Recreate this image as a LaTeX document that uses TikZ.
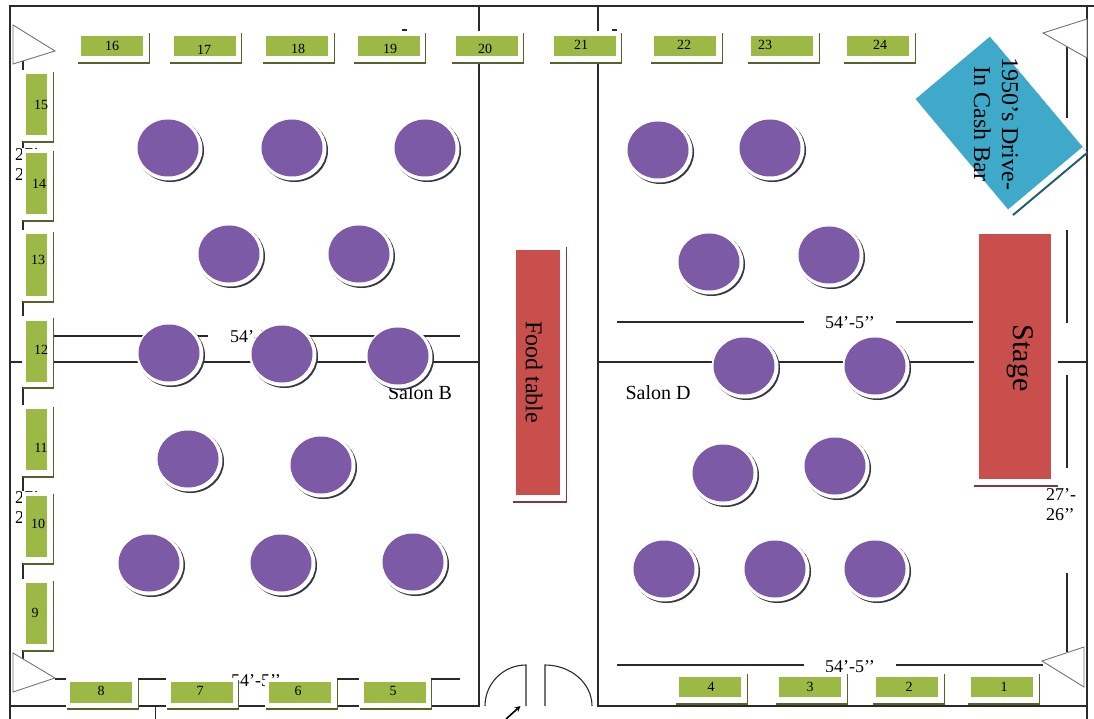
\documentclass[tikz,border=0pt]{standalone}
\usepackage{fontspec}
\setmainfont{Liberation Serif}
\usetikzlibrary{shadows,shapes.geometric}

\definecolor{tabgreen}{HTML}{9BB944}
\definecolor{tabdark}{HTML}{55642A}
\definecolor{plum}{HTML}{7C5AA6}
\definecolor{plumdark}{HTML}{3A3548}
\definecolor{brick}{HTML}{C94F4C}
\definecolor{brickdark}{HTML}{7E3A48}
\definecolor{barblue}{HTML}{3FA9C9}
\definecolor{bardark}{HTML}{1F5F6E}
\definecolor{wallgray}{HTML}{2A2A2A}

\begin{document}
\begin{tikzpicture}[x=1pt,y=-1pt,
  wall/.style={draw=wallgray,line width=1.1pt},
  tri/.style={draw=black!55,fill=white,line width=0.9pt},
  slab/.style={inner sep=0pt,
    general shadow={fill=#1,draw=#1,line width=10pt,shadow xshift=1.5pt,shadow yshift=-2.5pt},
    general shadow={fill=white,draw=white,line width=10pt,shadow xshift=.5pt,shadow yshift=-.5pt}},
  tabh/.style={slab=tabdark,fill=tabgreen,minimum width=62pt,minimum height=20.5pt},
  tabv/.style={slab=tabdark,fill=tabgreen,minimum width=21pt,minimum height=61pt},
  num/.style={font=\fontsize{14}{16}\selectfont,inner sep=0pt},
  seat/.style={ellipse,inner sep=0pt,fill=plum,minimum width=61pt,minimum height=57pt,
    general shadow={fill=plumdark,draw=plumdark,line width=6pt,shadow xshift=2.5pt,shadow yshift=-2.5pt},
    general shadow={fill=white,draw=white,line width=6pt,shadow xshift=1pt,shadow yshift=-1pt}},
  dimlbl/.style={font=\fontsize{18}{20}\selectfont,fill=white,inner sep=1pt},
  roomlbl/.style={font=\fontsize{20}{24}\selectfont}]

  \useasboundingbox (0,0) rectangle (1094,719);

  \draw[wall] (10,719) -- (10,6) -- (1094,6);
  \draw[wall] (1087,6) -- (1087,719);
  \draw[wall] (10,706) -- (479,706) -- (479,6);
  \draw[wall] (598,6) -- (598,706) -- (1087,706);
  \draw[wall] (10,362) -- (479,362);
  \draw[wall] (598,362) -- (1087,362);
  \draw[wall] (155.5,706) -- (155.5,719);

  \draw[wall] (53,336) -- (460,336);
  \draw[wall] (617,322) -- (973,322);
  \draw[wall] (617,665) -- (1043,665);
  \draw[wall] (55,679) -- (460,679);
  \draw[wall] (23,60) -- (23,660);
  \draw[wall] (402,30) -- (407,30);
  \draw[wall] (612,30) -- (617,30);

  \foreach \a/\b in {47/118,230/323,375/468,573/652}
    \draw[wall] (1067,\a) -- (1067,\b);

  \node[dimlbl,minimum width=94pt] (dimBC) at (255,337) {54'-5'{}'};
  \node[dimlbl,minimum width=92pt] (dimD) at (850,323) {54'-5'{}'};
  \node[dimlbl,minimum width=92pt] (dimDlow) at (850,667) {54'-5'{}'};
  \node[dimlbl] (dimBlow) at (256,681) {54'-5'{}'};
  \node[dimlbl,align=left] (dimL) at (30,165) {27'-\\26'{}'};
  \node[dimlbl,align=left] (dimLlow) at (30,508) {27'-\\26'{}'};
  \node[dimlbl,align=left] (dimR) at (1061,505) {27'-\\26'{}'};

  \node[roomlbl] (salonB) at (420,393) {Salon B};
  \node[roomlbl] (salonD) at (658,393) {Salon D};

  \draw[tri] (13,25) -- (55,51) -- (13,64) -- cycle;
  \draw[tri] (13,653) -- (55,678) -- (13,692) -- cycle;
  \draw[tri] (1087,19) -- (1043,33) -- (1087,58) -- cycle;
  \draw[tri] (1084,647) -- (1042,661) -- (1084,687) -- cycle;

  \foreach \n/\x/\tx/\ty in {16/112/112/46,17/204.5/204/50,18/297/298/49,19/388.5/390/49,
      20/486.5/485/49,21/584.5/581/45,22/685/684/45,23/782/765/45,24/878/880/45}{
    \node[tabh] (t\n) at (\x,46) {};
    \node[num] (n\n) at (\tx,\ty) {\n};
  }
  \foreach \n/\x/\tx in {8/101/101,7/201.5/200,6/300/298,5/394.5/393}{
    \node[tabh] (t\n) at (\x,692.5) {};
    \node[num] (n\n) at (\tx,691) {\n};
  }
  \foreach \n/\x/\tx in {4/710/711,3/810/810,2/907/909,1/1002/1004}{
    \node[tabh] (t\n) at (\x,687) {};
    \node[num] (n\n) at (\tx,687) {\n};
  }
  \foreach \n/\y/\tx/\ty in {15/105/41/105,14/184/39/184,13/265/38/260,12/351/41/350,
      11/439.5/41/448,10/526.5/38/524,9/613.5/35/613}{
    \node[tabv] (t\n) at (36.5,\y) {};
    \node[num] (n\n) at (\tx,\ty) {\n};
  }

  \foreach \x/\y in {168/148,292/148,425/148,229/254,359/254,169/353,282/354,398/356,
      188/459,321/465,149/563,281/563,413/562,658/150,770/148,709/262,829/255,
      744/366,875/366,723/473,835/466,664/569,775/569,875/569}
    \node[seat] (s\x) at (\x,\y) {};

  \node[slab=brickdark,fill=brick,minimum width=44pt,minimum height=245pt] (food) at (538,372.5) {};
  \node[rotate=-90,font=\fontsize{24}{28}\selectfont] (foodtxt) at (534,372) {Food table};

  \node[inner sep=0pt,fill=brick,minimum width=72pt,minimum height=245pt,
    general shadow={fill=brickdark,draw=brickdark,line width=12pt,shadow xshift=.5pt,shadow yshift=-1.5pt},
    general shadow={fill=white,draw=white,line width=12pt,shadow xshift=.5pt}] (stage) at (1015,356.5) {};
  \node[rotate=-90,font=\fontsize{30}{34}\selectfont] (stagetxt) at (1020,358) {Stage};

  \node[rotate=-50,inner sep=0pt,fill=barblue,minimum width=144pt,minimum height=97pt,
    general shadow={fill=bardark,shadow xshift=5.5pt,shadow yshift=-6.5pt},
    general shadow={fill=white,shadow xshift=4pt,shadow yshift=-5pt}] (bar) at (999,123) {};
  \node[rotate=-90,align=center,font=\fontsize{24}{28}\selectfont] (bartxt) at (996,124) {1950's Drive-\\In Cash Bar};

  \draw[wall] (526,706) -- (526,665) arc (-90:-180:41);
  \draw[wall] (545,706) -- (545,665) arc (-90:0:47 and 41);
  \draw[-stealth,line width=1.6pt] (506,719) -- (520.5,706);

\end{tikzpicture}
\end{document}
